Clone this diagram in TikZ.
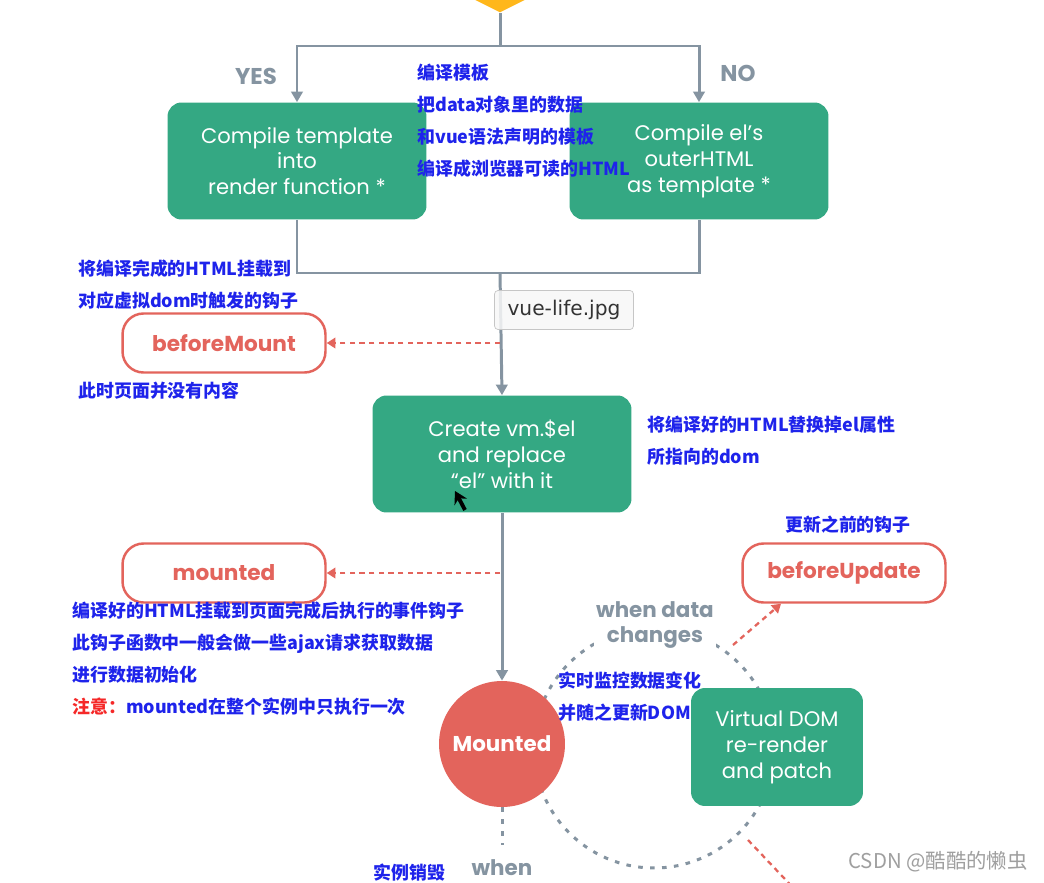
\documentclass[tikz,border=0pt]{standalone}
\usepackage{fontspec}
\setmainfont{Poppins}
\newfontfamily\cjk{Noto Sans CJK SC}
\newfontfamily\tipfont{DejaVu Sans}
\usetikzlibrary{arrows.meta,shapes.geometric}
\definecolor{vgreen}{RGB}{52,168,131}
\definecolor{vred}{RGB}{227,100,92}
\definecolor{vgray}{RGB}{133,148,161}
\definecolor{vblue}{RGB}{30,35,235}
\definecolor{vwarn}{RGB}{245,40,40}
\definecolor{vorange}{RGB}{255,183,27}
\begin{document}
\begin{tikzpicture}[x=0.02cm,y=-0.02cm,
    stage/.style={fill=vgreen,rounded corners=0.28cm,minimum width=5.18cm,minimum height=2.34cm,
                  text=white,align=center,font=\fontsize{12}{14.7}\selectfont},
    hook/.style={draw=vred,line width=1.4pt,fill=white,rounded corners=0.42cm,minimum width=4.06cm,
                 minimum height=1.18cm,text=vred,font=\fontsize{12.3}{14}\selectfont\bfseries},
    note/.style={anchor=base west,inner sep=0pt,text=vblue,align=left,
                 font=\cjk\fontsize{10.2}{18.1}\selectfont\bfseries},
    tag/.style={text=vgray,align=center,font=\fontsize{12.2}{14.5}\selectfont\bfseries},
    flow/.style={draw=vgray,line width=1.7pt},
    flowarrow/.style={flow,-{Triangle[width=6.5pt,length=6pt]}},
    hookarrow/.style={draw=vred,line width=1.3pt,dash pattern=on 3pt off 2.5pt,
                      -{Triangle[width=6pt,length=5pt]}},
    loop/.style={draw=vgray,line width=1.7pt,dash pattern=on 2.6pt off 4.2pt}
  ]
  \clip (0,0) rectangle (1044,882);
  \fill[white] (0,0) rectangle (1044,882);

  \draw[loop] (654,748) circle (2.4cm);

  \node[diamond,fill=vorange,aspect=2,minimum width=3cm,minimum height=1.5cm] (start) at (500,-25) {};
  \node[stage] (tpl) at (297,161) {Compile template\\into\\render function *};
  \node[stage] (elhtml) at (699,161) {Compile el’s\\outerHTML\\as template *};
  \node[tag,font=\fontsize{13}{15}\selectfont\bfseries] (yes) at (256,76) {YES};
  \node[tag,font=\fontsize{13}{15}\selectfont\bfseries] (no) at (738,73) {NO};
  \node[note] (tplnote) at (417,175) {编译模板\\把data对象里的数据\\和vue语法声明的模板\\编译成浏览器可读的HTML};

  \coordinate (split) at (500,46);
  \coordinate (join) at (500,273);
  \node[stage] (create) at (502,454) {Create vm.\$el\\and replace\\“el” with it};

  \node[hook] (bmount) at (224,343) {beforeMount};
  \node[note] (bmnote) at (78,307) {将编译完成的HTML挂载到\\对应虚拟dom时触发的钩子};
  \node[note] (bmempty) at (78,397) {此时页面并没有内容};
  \node[note] (createnote) at (647,463) {将编译好的HTML替换掉el属性\\所指向的dom};

  \node[hook] (mhook) at (224,573) {mounted};
  \node[note] (mnote) at (72,713) {编译好的HTML挂载到页面完成后执行的事件钩子\\此钩子函数中一般会做一些ajax请求获取数据\\进行数据初始化\\{\color{vwarn}注意：}mounted在整个实例中只执行一次};

  \node[circle,fill=vred,minimum size=2.52cm,text=white,font=\fontsize{12.2}{14}\selectfont\bfseries] (mounted) at (502,744) {Mounted};
  \node[tag,fill=white,inner sep=1pt] (datachg) at (655,625) {when data\\changes};
  \node[note] (watchnote) at (558,719) {实时监控数据变化\\并随之更新DOM};
  \node[stage,minimum width=3.44cm,minimum height=2.36cm] (vdom) at (777,747) {Virtual DOM\\re-render\\and patch};
  \node[hook] (bupdate) at (844,573) {beforeUpdate};
  \node[note,anchor=base] (bunote) at (848,531) {更新之前的钩子};

  \node[tag] (when) at (502,868) {when};
  \node[note] (destroy) at (373,879) {实例销毁};
  \node[text=gray!75,font=\cjk\fontsize{11.6}{13}\selectfont] (mark) at (938,862) {CSDN @酷酷的懒虫};

  \coordinate (bmtap) at (500,343);
  \coordinate (mtap) at (500,573);
  \coordinate (updtap) at (733,645);
  \coordinate (updtap2) at (748,840);
  \coordinate (updated) at (800,895);
  \coordinate (whentop) at (502,845);

  \draw[flow] (start.south) -- (split);
  \draw[flowarrow] (split) -| (tpl.north);
  \draw[flowarrow] (split) -| (elhtml.north);
  \draw[flow] (tpl.south) |- (join);
  \draw[flow] (elhtml.south) |- (join);
  \draw[flowarrow] (join) -- (create.north);
  \draw[flowarrow] (create.south) -- (mounted.north);
  \draw[hookarrow] (bmtap) -- (bmount.east);
  \draw[hookarrow] (mtap) -- (mhook.east);
  \draw[hookarrow] (updtap) -- (bupdate.206);
  \draw[hookarrow] (updtap2) -- (updated);
  \draw[loop] (mounted.south) -- (whentop);

  \node[draw=gray!45,fill=gray!6,fill opacity=0.85,text opacity=1,rounded corners=2pt,minimum width=2.78cm,
        minimum height=0.78cm,font=\tipfont\fontsize{11.5}{13}\selectfont,text=black!80] (tip) at (564,310) {vue-life.jpg};

  \draw[line width=2.2pt,-{Stealth[length=7pt,width=8pt]}] (465,510) -- (455,491);
\end{tikzpicture}
\end{document}
